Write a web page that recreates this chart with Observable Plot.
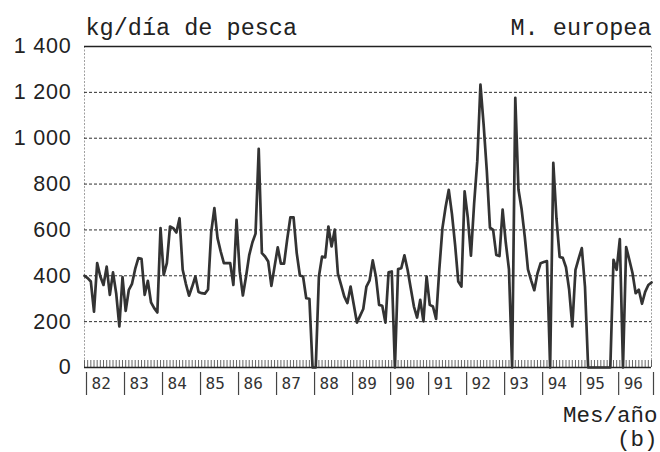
<!DOCTYPE html>
<html>
<head>
<meta charset="utf-8">
<script src="https://cdn.jsdelivr.net/npm/d3@7"></script>
<script src="https://cdn.jsdelivr.net/npm/@observablehq/plot@0.6"></script>
<style>
  body { margin: 0; background: #fff; }
  #chart svg { display: block; }
  #chart g[aria-label="y-axis tick label"] text { letter-spacing: 0.8px; }
</style>
</head>
<body>
<div id="chart"></div>
<script>
// Tick labels
const yearLabels = ["82","83","84","85","86","87","88","89","90","91","92","93","94","95","96"];
const yTicks = [0, 200, 400, 600, 800, 1000, 1200, 1400];
const gridValues = [200, 400, 600, 800, 1000, 1200];

// Monthly catch per fishing day (kg), Jan..Dec of each year
const y82 = [400, 390, 375, 244, 455, 397, 360, 440, 317, 415, 324, 179];
const y83 = [394, 247, 339, 365, 430, 477, 474, 317, 378, 284, 259, 240];
const y84 = [608, 404, 455, 615, 608, 589, 651, 426, 365, 313, 353, 397];
const y85 = [329, 324, 322, 340, 590, 695, 564, 506, 455, 455, 455, 360];
const y86 = [644, 419, 314, 397, 490, 545, 584, 954, 499, 484, 462, 356];
const y87 = [440, 524, 453, 453, 560, 655, 655, 499, 401, 397, 302, 300];
const y88 = [0, 0, 397, 484, 480, 615, 528, 601, 409, 360, 310, 281];
const y89 = [353, 275, 196, 225, 255, 353, 380, 467, 397, 273, 269, 196];
const y90 = [415, 419, 0, 429, 433, 489, 426, 346, 266, 218, 295, 201];
const y91 = [397, 273, 266, 212, 426, 608, 700, 775, 670, 535, 375, 353];
const y92 = [768, 655, 488, 714, 900, 1234, 1060, 860, 610, 600, 491, 486];
const y93 = [689, 544, 428, 0, 1176, 776, 690, 570, 428, 380, 337, 410];
const y94 = [455, 460, 464, 0, 893, 650, 482, 478, 437, 340, 179, 426];
const y95 = [475, 521, 353, 0, 0, 0, 0, 0, 0, 0, 0, 470];
const y96 = [426, 560, 0, 525, 470, 412, 324, 339, 278, 330, 360, 371];

const yearSeries = [y82, y83, y84, y85, y86, y87, y88, y89, y90, y91, y92, y93, y94, y95, y96];
const values = yearSeries.flat();
const data = values.map((v, i) => ({m: i, v}));
const months = data.map(d => d.m);
const lastMonth = months[months.length - 1];
const yearStarts = yearLabels.map((_, k) => k * 12);
const yearBars = [...yearStarts, lastMonth];

// thousands separated by a space, as in "1 400"
const fmt = d => d >= 1000 ? `${Math.floor(d / 1000)} ${String(d % 1000).padStart(3, "0")}` : String(d);

const mono = "'Liberation Mono', 'DejaVu Sans Mono', monospace";

const chart = Plot.plot({
  width: 660,
  height: 452,
  marginLeft: 84,
  marginRight: 9,
  marginTop: 46,
  marginBottom: 85,
  x: {domain: [0, lastMonth], axis: null},
  y: {domain: [0, 1400], axis: null},
  style: {background: "white", overflow: "visible"},
  marks: [
    Plot.frame({stroke: "#a0a0a0", strokeDasharray: "2,1.5", strokeWidth: 1}),
    Plot.ruleY(gridValues, {stroke: "#2e2e2e", strokeDasharray: "3,2", strokeWidth: 1}),
    Plot.ruleY([1400], {stroke: "#222", strokeWidth: 1.6}),
    Plot.tickX(months, {x: d => d, insetTop: 314, stroke: "#555", strokeWidth: 0.9}),
    Plot.ruleY([0], {stroke: "#222", strokeWidth: 1.6}),
    Plot.line(data, {x: "m", y: "v", stroke: "#333", strokeWidth: 2.7}),
    Plot.axisY({ticks: yTicks, label: null, tickSize: 0, tickPadding: 13, tickFormat: fmt, fontSize: 21.5, fontFamily: "'Liberation Sans', Arial, sans-serif", fill: "#222"}),
    Plot.tickX(yearBars, {x: d => d, insetTop: 298, dy: 28, dx: 2, stroke: "#444", strokeWidth: 1.2}),
    Plot.text(yearStarts, {x: d => d, text: (d, i) => yearLabels[i], frameAnchor: "bottom", textAnchor: "start", lineAnchor: "middle", dy: 16, dx: 7, fontSize: 16, fontFamily: "'DejaVu Sans Mono', monospace", fill: "#333"}),
    Plot.text(["kg/día de pesca"], {frameAnchor: "top-left", textAnchor: "start", lineAnchor: "bottom", dy: -12, dx: 1, fontSize: 23.5, fontFamily: mono, fill: "#222"}),
    Plot.text(["M. europea"], {frameAnchor: "top-right", textAnchor: "end", lineAnchor: "bottom", dy: -12, dx: 0, fontSize: 23.5, fontFamily: mono, fill: "#222"}),
    Plot.text(["Mes/año"], {frameAnchor: "bottom-right", textAnchor: "end", lineAnchor: "bottom", dy: 54, dx: 6, fontSize: 22.5, fontFamily: mono, fill: "#222"}),
    Plot.text(["(b)"], {frameAnchor: "bottom-right", textAnchor: "end", lineAnchor: "bottom", dy: 78, dx: 6, fontSize: 22.5, fontFamily: mono, fill: "#222"})
  ]
});

document.getElementById("chart").appendChild(chart);
</script>
</body>
</html>
